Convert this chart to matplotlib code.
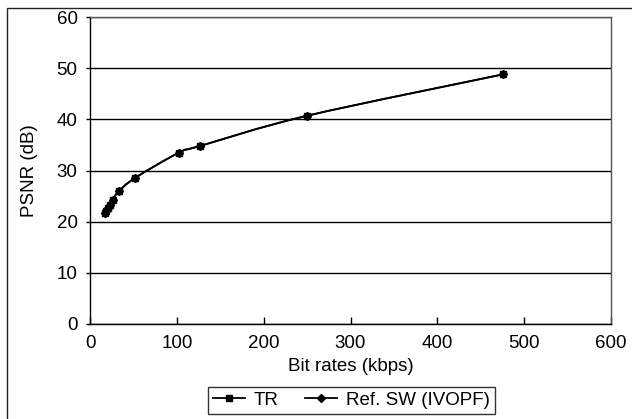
import matplotlib
matplotlib.use("Agg")
import matplotlib.pyplot as plt
from matplotlib.patches import Rectangle, PathPatch
from matplotlib.path import Path
from matplotlib.lines import Line2D

plt.rcParams['font.family'] = ['Liberation Sans', 'DejaVu Sans']

# Data
tr_rate = [17, 18.5, 20.5, 23, 26, 33, 51.5, 102.5, 127, 250, 476]
tr_psnr = [21.6, 22.0, 22.6, 23.3, 24.3, 25.9, 28.5, 33.5, 34.8, 40.7, 48.8]
ref_rate = [17, 18.5, 20.5, 23, 26, 33, 51.5, 102.5, 127, 250, 476]
ref_psnr = [21.6, 22.0, 22.6, 23.3, 24.3, 25.9, 28.5, 33.5, 34.8, 40.7, 48.8]
x_ticks = [0, 100, 200, 300, 400, 500, 600]
y_ticks = [0, 10, 20, 30, 40, 50, 60]

FS = 13.5
W, H = 632, 419


def smooth_path(xs, ys):
    """Excel-style smoothed connector (cubic Bezier through the data points)."""
    pts = list(zip(xs, ys))
    n = len(pts)
    verts = [pts[0]]
    codes = [Path.MOVETO]
    for i in range(n - 1):
        p0 = pts[i - 1] if i > 0 else pts[i]
        p1 = pts[i]
        p2 = pts[i + 1]
        p3 = pts[i + 2] if i + 2 < n else pts[i + 1]
        c1 = (p1[0] + (p2[0] - p0[0]) / 6, p1[1] + (p2[1] - p0[1]) / 6)
        c2 = (p2[0] - (p3[0] - p1[0]) / 6, p2[1] - (p3[1] - p1[1]) / 6)
        verts += [c1, c2, p2]
        codes += [Path.CURVE4] * 3
    return Path(verts, codes)


fig = plt.figure(figsize=(W / 100, H / 100), dpi=100)
fig.patch.set_facecolor('white')

# outer chart frame (extends past right/bottom edges)
fig.add_artist(Rectangle((7 / W, -0.05), 1.2, 1 - 8 / H + 0.05,
                         transform=fig.transFigure, fill=False,
                         edgecolor='#222222', linewidth=1.0))

ax = fig.add_axes([90 / W, 1 - 324 / H, (611 - 90) / W, (324 - 17) / H])
ax.set_xlim(0, 600)
ax.set_ylim(0, 60)
ax.set_xticks(x_ticks)
ax.set_yticks(y_ticks)
ax.set_xticklabels([str(v) for v in x_ticks])
ax.set_yticklabels([str(v) for v in y_ticks])
ax.tick_params(axis='x', direction='in', length=5, width=1, pad=8,
               labelsize=FS, colors='black')
ax.tick_params(axis='y', direction='out', length=3, width=1, pad=6,
               labelsize=FS, colors='black')
ax.yaxis.grid(True, color='black', linewidth=1.0)
ax.set_axisbelow(True)
for s in ['top', 'right']:
    ax.spines[s].set_color('#555555')
    ax.spines[s].set_linewidth(1.0)
for s in ['left', 'bottom']:
    ax.spines[s].set_color('black')
    ax.spines[s].set_linewidth(1.0)

# smoothed connectors
ax.add_patch(PathPatch(smooth_path(ref_rate, ref_psnr), fill=False,
                       edgecolor='black', linewidth=1.3, zorder=3))
ax.add_patch(PathPatch(smooth_path(tr_rate, tr_psnr), fill=False,
                       edgecolor='black', linewidth=1.3, zorder=3))
# markers
ax.plot(ref_rate, ref_psnr, linestyle='none', color='black', marker='D',
        markersize=4, zorder=4)
ax.plot(tr_rate, tr_psnr, linestyle='none', color='black', marker='s',
        markersize=5, zorder=5)

ax.set_xlabel('Bit rates (kbps)', fontsize=FS, labelpad=4)
ax.set_ylabel('PSNR (dB)', fontsize=FS, labelpad=13)

handles = [Line2D([], [], color='black', linewidth=1.3, marker='s', markersize=5),
           Line2D([], [], color='black', linewidth=1.3, marker='D', markersize=4)]
labels = ['TR', 'Ref. SW (IVOPF)']
leg = fig.legend(handles, labels,
                 loc='upper left', bbox_to_anchor=(208 / W, 1 - 387 / H),
                 ncol=2, frameon=True, fancybox=False, edgecolor='black',
                 fontsize=FS, handlelength=1.7, columnspacing=1.4,
                 handletextpad=0.5, borderpad=0.25, borderaxespad=0)
leg.get_frame().set_linewidth(1.0)

fig.savefig('out.png', dpi=100, facecolor='white')
